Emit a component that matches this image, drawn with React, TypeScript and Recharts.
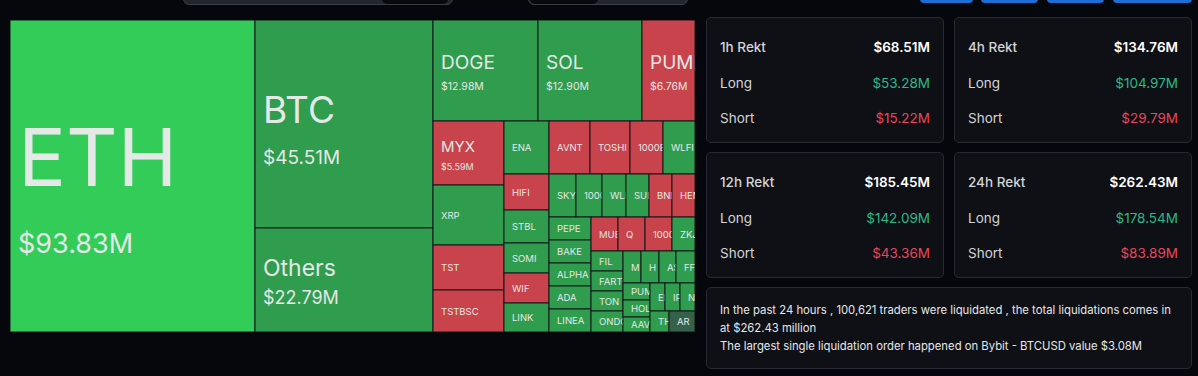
import { Treemap } from "recharts";

// liquidations per coin, $M, sorted like the source
const coins = [
  "ETH", "BTC", "Others", "DOGE", "SOL", "PUMP", "MYX", "XRP", "TST", "TSTBSC",
  "ENA", "AVNT", "TOSHI", "1000BONK", "WLFI",
  "HIFI", "STBL", "SOMI", "WIF", "LINK",
  "SKY", "1000SATS", "WLD", "SUI", "BNB", "HEMI",
  "PEPE", "BAKE", "ALPHA", "ADA", "LINEA",
  "MUBARAK", "Q", "1000PEPE", "ZKJ",
  "FIL", "FARTCOIN", "TON", "ONDO",
  "M", "H", "ASTER", "FF",
  "PUMPBTC", "HOLO", "AAVE",
  "EIGEN", "IP", "NEAR",
  "THE", "AR",
];
const amounts = [
  93.83, 45.51, 22.79, 12.98, 12.9, 6.76, 5.59, 5.25, 3.9, 3.72,
  2.93, 2.64, 2.62, 2.15, 2.08,
  1.99, 1.82, 1.66, 1.63, 1.62,
  1.44, 1.38, 1.28, 1.22, 1.21, 1.19,
  1.19, 1.18, 1.17, 1.17, 1.16,
  1.13, 1.13, 1.12, 0.92,
  0.8, 0.79, 0.79, 0.78,
  0.72, 0.72, 0.68, 0.67,
  0.56, 0.55, 0.54,
  0.53, 0.51, 0.51,
  0.48, 0.44,
];
// h = hot green, g = long side, r = short side, n = neutral
const tones = [
  "h", "g", "g", "g", "g", "r", "r", "g", "r", "r",
  "g", "r", "r", "r", "g",
  "r", "g", "g", "r", "g",
  "g", "g", "g", "g", "r", "r",
  "g", "g", "g", "g", "g",
  "r", "r", "r", "g",
  "g", "g", "g", "g",
  "g", "g", "g", "g",
  "g", "g", "g",
  "g", "g", "g",
  "g", "n",
];

const periods = ["1h", "4h", "12h", "24h"];
const totals = [68.51, 134.76, 185.45, 262.43];
const longs = [53.28, 104.97, 142.09, 178.54];
const shorts = [15.22, 29.79, 43.36, 83.89];

const tileData = coins.map((name, i) => ({ name, amount: amounts[i], tone: tones[i] }));

const toneFill: Record<string, string> = {
  h: "#33cc59",
  g: "#2f9c4e",
  r: "#c8434b",
  n: "#35604a",
};

// label sizes for the biggest tiles: [name font, value font, name dy, value dy]
const bigLabels = [
  [80, 27, 10, 77],
  [37, 19, -1, 40],
  [23, 18, -4, 24],
  [19, 10.5, -2, 19],
  [19, 10.5, -2, 19],
  [19, 10.5, -2, 19],
  [15, 9, -1, 17],
];

const fmt = (v: number) => `$${v.toFixed(2)}M`;

function Tile(props: any) {
  const { x, y, width, height, depth, index, name, amount, tone } = props;
  if (depth !== 1 || width <= 0 || height <= 0) return null;
  const big = bigLabels[index];
  return (
    <g>
      <rect x={x} y={y} width={width} height={height} fill={toneFill[tone]} stroke="#14171a" strokeWidth={1} />
      <svg x={x} y={y} width={width} height={height} overflow="hidden">
        {big ? (
          <>
            <text x={8} y={height / 2 + big[2]} fontSize={big[0]} fill="#e4e8e6" fontFamily="Inter">
              {name}
            </text>
            <text x={8} y={height / 2 + big[3]} fontSize={big[1]} fill="#e4e8e6" fontFamily="Inter">
              {fmt(amount)}
            </text>
          </>
        ) : (
          <text x={8} y={height / 2 + 3.5} fontSize={9.5} fill="#e4e8e6" fontFamily="Inter">
            {name}
          </text>
        )}
      </svg>
    </g>
  );
}

function RektCard({ i, left, top }: { i: number; left: number; top: number }) {
  const row = (label: string, value: string, color: string, t: number, bold: boolean) => (
    <div
      style={{
        position: "absolute",
        left: 13,
        right: 13,
        top: t,
        display: "flex",
        justifyContent: "space-between",
        fontSize: 13.5,
        lineHeight: "16px",
      }}
    >
      <span style={{ color: "#d2d4d8", fontWeight: bold ? 500 : 400 }}>{label}</span>
      <span style={{ color, fontWeight: bold ? 600 : 400 }}>{value}</span>
    </div>
  );
  return (
    <div
      style={{
        position: "absolute",
        left,
        top,
        width: 238,
        height: 126,
        background: "#0e1016",
        border: "1px solid #272a32",
        borderRadius: 5,
        boxSizing: "border-box",
      }}
    >
      {row(`${periods[i]} Rekt`, fmt(totals[i]), "#ffffff", 21, true)}
      {row("Long", fmt(longs[i]), "#2fb886", 57, false)}
      {row("Short", fmt(shorts[i]), "#e9475a", 92, false)}
    </div>
  );
}

export default function App() {
  const blue = { position: "absolute" as const, top: -6, height: 9, background: "#1d6fd6", borderRadius: 4 };
  return (
    <div
      style={{
        position: "fixed",
        left: 0,
        top: 0,
        width: 1198,
        height: 376,
        background: "#05070c",
        fontFamily: "Inter, sans-serif",
        overflow: "hidden",
      }}
    >
      <div style={{ position: "absolute", left: 183, top: -10, width: 270, height: 15, background: "#23262e", border: "1px solid #3a3d45", borderRadius: 6, boxSizing: "border-box" }}>
        <div style={{ position: "absolute", right: 4, top: 0, width: 66, height: 13, background: "#07090d", borderRadius: 5 }} />
      </div>
      <div style={{ position: "absolute", left: 528, top: -10, width: 160, height: 15, background: "#23262e", border: "1px solid #3a3d45", borderRadius: 6, boxSizing: "border-box" }}>
        <div style={{ position: "absolute", left: 1, top: 0, width: 68, height: 13, background: "#07090d", borderRadius: 5 }} />
      </div>
      <div style={{ ...blue, left: 920, width: 53 }} />
      <div style={{ ...blue, left: 981, width: 57 }} />
      <div style={{ ...blue, left: 1047, width: 57 }} />
      <div style={{ ...blue, left: 1113, width: 79 }} />

      <div style={{ position: "absolute", left: 10, top: 20 }}>
        <Treemap
          width={685}
          height={312}
          data={tileData}
          dataKey="amount"
          nameKey="name"
          isAnimationActive={false}
          content={<Tile />}
        />
      </div>

      <RektCard i={0} left={706} top={17} />
      <RektCard i={1} left={954} top={17} />
      <RektCard i={2} left={706} top={152} />
      <RektCard i={3} left={954} top={152} />

      <div
        style={{
          position: "absolute",
          left: 706,
          top: 287,
          width: 486,
          height: 82,
          background: "#0e1016",
          border: "1px solid #272a32",
          borderRadius: 5,
          boxSizing: "border-box",
          padding: "13px 13px",
          color: "#e6e7ea",
          fontSize: 11.3,
          lineHeight: "18px",
        }}
      >
        <div>
          In the past 24 hours , 100,621 traders were liquidated , the total liquidations comes in at {"$"}
          {totals[3]} million
        </div>
        <div>The largest single liquidation order happened on Bybit - BTCUSD value $3.08M</div>
      </div>
    </div>
  );
}
